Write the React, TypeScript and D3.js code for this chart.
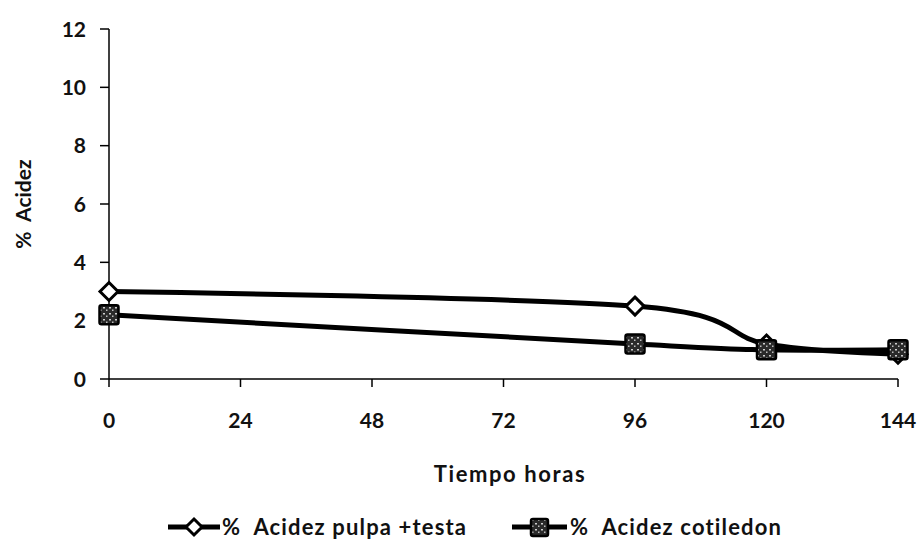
import React from "react";
import * as d3 from "d3";

const hours = [0, 96, 120, 144];
const pulpaTesta = [3.0, 2.5, 1.2, 0.85];
const cotiledon = [2.2, 1.2, 1.0, 1.0];
const xTicks = [0, 24, 48, 72, 96, 120, 144];
const yTicks = [0, 2, 4, 6, 8, 10, 12];
const seriesNames = ["%\u00a0 Acidez pulpa +testa", "%\u00a0 Acidez cotiledon"];

const W = 923, H = 540;
const FONT = "Lato, 'Open Sans', sans-serif";

export default function App() {
  const x = d3.scaleLinear().domain([0, 144]).range([109, 898]);
  const y = d3.scaleLinear().domain([0, 12]).range([379, 29]);
  const line = d3
    .line<[number, number]>()
    .x((d) => x(d[0]))
    .y((d) => y(d[1]))
    .curve(d3.curveCardinal.tension(0));
  const p1 = hours.map((h, i) => [h, pulpaTesta[i]] as [number, number]);
  const p2 = hours.map((h, i) => [h, cotiledon[i]] as [number, number]);

  const diamond = (cx: number, cy: number, r = 9) =>
    `M${cx},${cy - r}L${cx + r},${cy}L${cx},${cy + r}L${cx - r},${cy}Z`;

  const txt = { fontFamily: FONT, fontWeight: 700, fill: "#111" } as const;

  return (
    <svg width={W} height={H} style={{ position: "absolute", left: 0, top: 0, background: "#fff" }}>
      <defs>
        <pattern id="speck" width="6" height="6" patternUnits="userSpaceOnUse">
          <rect width="6" height="6" fill="#2a2a2a" />
          <rect x="1" y="1" width="2" height="1.5" fill="#cfcfcf" />
          <rect x="4" y="3.5" width="1.5" height="1.5" fill="#bdbdbd" />
        </pattern>
      </defs>
      <rect width={W} height={H} fill="#fff" />
      {/* y axis */}
      <line x1={109} x2={109} y1={y(12)} y2={y(0)} stroke="#000" strokeWidth={1.5} />
      {yTicks.map((t) => (
        <g key={"y" + t}>
          <line x1={100} x2={109} y1={y(t)} y2={y(t)} stroke="#000" strokeWidth={1.5} />
          <text x={86} y={y(t)} dy="0.36em" textAnchor="end" fontSize={21} {...txt}>
            {t}
          </text>
        </g>
      ))}
      {/* x axis */}
      <line x1={x(0)} x2={x(144)} y1={y(0)} y2={y(0)} stroke="#000" strokeWidth={1.5} />
      {xTicks.map((t) => (
        <g key={"x" + t}>
          <line x1={x(t)} x2={x(t)} y1={y(0)} y2={y(0) + 8} stroke="#000" strokeWidth={1.5} />
          <text x={x(t)} y={428} textAnchor="middle" fontSize={21} {...txt}>
            {t}
          </text>
        </g>
      ))}
      <text x={510} y={482} textAnchor="middle" fontSize={22} letterSpacing={1.6} {...txt}>
        Tiempo horas
      </text>
      <text transform={`translate(31,204) rotate(-90)`} textAnchor="middle" fontSize={21} {...txt}>
        {"%\u00a0 Acidez"}
      </text>
      {/* lines */}
      <path d={line(p2) || ""} fill="none" stroke="#000" strokeWidth={5} />
      <path d={line(p1) || ""} fill="none" stroke="#000" strokeWidth={5} />
      {p1.map((d, i) => (
        <path key={"d" + i} d={diamond(x(d[0]), y(d[1]))} fill="#fff" stroke="#000" strokeWidth={3} />
      ))}
      {p2.map((d, i) => (
        <rect
          key={"s" + i}
          x={x(d[0]) - 9.5}
          y={y(d[1]) - 9.5}
          width={19}
          height={19}
          rx={2}
          fill="url(#speck)"
          stroke="#000"
          strokeWidth={2.5}
        />
      ))}
      {/* legend */}
      <line x1={168} x2={220} y1={527} y2={527} stroke="#000" strokeWidth={5} />
      <path d={diamond(194, 527, 8)} fill="#fff" stroke="#000" strokeWidth={3} />
      <text x={222} y={535} fontSize={22} letterSpacing={1.15} {...txt}>
        {seriesNames[0]}
      </text>
      <line x1={512} x2={567} y1={527} y2={527} stroke="#000" strokeWidth={5} />
      <rect x={531} y={519} width={17} height={17} rx={2} fill="url(#speck)" stroke="#000" strokeWidth={2.5} />
      <text x={570} y={535} fontSize={22} letterSpacing={1.15} {...txt}>
        {seriesNames[1]}
      </text>
    </svg>
  );
}
